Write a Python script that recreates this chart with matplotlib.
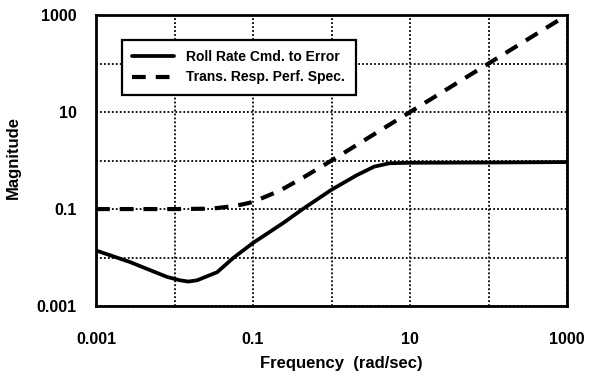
import numpy as np
import matplotlib
matplotlib.use("Agg")
import matplotlib.pyplot as plt
from matplotlib.ticker import FixedLocator, NullFormatter

plt.rcParams['font.family'] = ['Liberation Sans', 'DejaVu Sans']
plt.rcParams['font.weight'] = 'bold'

# roll rate command to error
freq_roll = [0.001, 0.0027, 0.0049, 0.008, 0.0117, 0.015, 0.0194, 0.035, 0.056, 0.1,
             0.24, 0.43, 1.0, 2.1, 3.5, 5.5, 10, 100, 1000]
mag_roll = [0.014, 0.0081, 0.0055, 0.004, 0.0034, 0.0032, 0.0034, 0.005, 0.0098, 0.02,
            0.051, 0.1, 0.25, 0.5, 0.75, 0.88, 0.9, 0.91, 0.93]

# transient response performance spec
freq_spec = [0.001, 0.01, 0.03, 0.056, 0.074, 0.1, 0.22, 0.43, 1, 10, 100, 1000]
mag_spec = [0.1, 0.1, 0.102, 0.115, 0.125, 0.14, 0.24, 0.44, 1, 10, 100, 1000]

major_ticks = [0.001, 0.1, 10, 1000]
major_labels = ['0.001', '0.1', '10', '1000']
minor_ticks = [0.01, 1, 100]

fig = plt.figure(figsize=(6.0, 3.76), dpi=100)
ax = fig.add_axes([0.16, 0.186, 0.785, 0.774])

ax.plot(freq_roll, mag_roll, color='k', lw=2.7, solid_capstyle='round',
        solid_joinstyle='round', label='Roll Rate Cmd. to Error', zorder=3)
ax.plot(freq_spec, mag_spec, color='k', lw=3.0, dashes=(3.3, 2.4),
        label='Trans. Resp. Perf. Spec.', zorder=3)

ax.set_xscale('log')
ax.set_yscale('log')
ax.set_xlim(0.001, 1000)
ax.set_ylim(0.001, 1000)

for axis in (ax.xaxis, ax.yaxis):
    axis.set_major_locator(FixedLocator(major_ticks))
    axis.set_minor_locator(FixedLocator(minor_ticks))
    axis.set_minor_formatter(NullFormatter())
ax.set_xticklabels(major_labels)
ax.set_yticklabels(major_labels)

ax.grid(True, which='both', color='k', lw=1.3, linestyle=(0, (1, 1.2)))
ax.tick_params(which='both', length=0)
ax.tick_params(axis='x', pad=19, labelsize=11.5)
ax.tick_params(axis='y', pad=14, labelsize=11.5)
for s in ax.spines.values():
    s.set_linewidth(2)

ax.set_xlabel('Frequency  (rad/sec)', fontsize=12, fontweight='bold')
ax.xaxis.set_label_coords(0.52, -0.17)
ax.set_ylabel('Magnitude', fontsize=12, fontweight='bold')
ax.yaxis.set_label_coords(-0.16, 0.51)

leg = ax.legend(loc='upper left', bbox_to_anchor=(0.055, 0.915), borderaxespad=0,
                fancybox=False, framealpha=1, edgecolor='k', fontsize=10,
                handlelength=3.0, handletextpad=0.9, borderpad=0.75,
                labelspacing=0.45)
leg.get_frame().set_linewidth(1.6)
leg.set_zorder(5)

fig.savefig('out.png', dpi=100)
